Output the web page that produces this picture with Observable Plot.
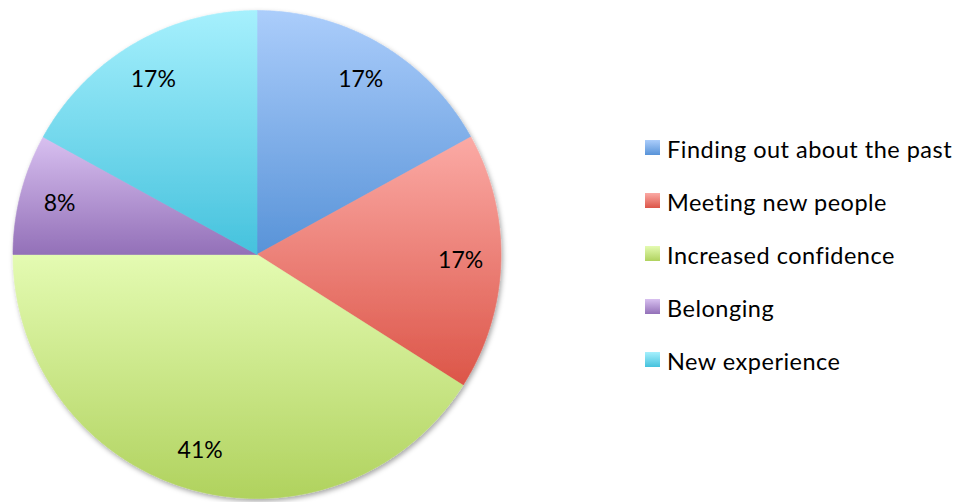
<!DOCTYPE html>
<html>
<head>
<meta charset="utf-8">
<script src="https://cdn.jsdelivr.net/npm/d3@7"></script>
<script src="https://cdn.jsdelivr.net/npm/@observablehq/plot@0.6"></script>
<style>
  html, body { margin: 0; padding: 0; background: #fff; }
  #wrap { position: relative; width: 958px; height: 502px; overflow: hidden; }
  #legend { position: absolute; left: 645px; top: 132px; font-family: Lato, "Open Sans", sans-serif; font-size: 23.5px; letter-spacing: 0.5px; color: #000; }
  .row { display: flex; align-items: center; height: 33px; margin-bottom: 20px; white-space: nowrap; }
  .sw { width: 15px; height: 15px; margin-right: 7px; margin-top: -2px; }
</style>
</head>
<body>
<div id="wrap"><div id="chart"></div><div id="legend"></div></div>
<script>
const categories = ["Finding out about the past", "Meeting new people", "Increased confidence", "Belonging", "New experience"];
const values = [17, 17, 41, 8, 17];
const labels = ["17%", "17%", "41%", "8%", "17%"];
const topColors = ["#abcdfb", "#fbaaa5", "#e4fbb2", "#d8c0f0", "#a6f0fd"];
const bottomColors = ["#5893d8", "#dc5548", "#b0d25e", "#9370b8", "#45c2dd"];

const pie = d3.pie().sort(null).value(d => d)(values);

// slice outlines on the unit circle, clockwise from 12 o'clock
const pts = [];
pie.forEach((p, i) => {
  pts.push({k: i, x: 0, y: 0, fill: `url(#g${i})`});
  const n = Math.max(4, Math.ceil((p.endAngle - p.startAngle) / (Math.PI / 360)));
  for (let j = 0; j <= n; j++) {
    const a = p.startAngle + (p.endAngle - p.startAngle) * j / n;
    pts.push({k: i, x: Math.sin(a), y: Math.cos(a), fill: `url(#g${i})`});
  }
  pts.push({k: i, x: 0, y: 0, fill: `url(#g${i})`});
});

const lr = 0.835;
const labelData = pie.map((p, i) => {
  const a = (p.startAngle + p.endAngle) / 2;
  return {x: lr * Math.sin(a), y: lr * Math.cos(a), t: labels[i]};
});

const W = 958, H = 502;
const cx = 256.5, cy = 254, R = 244;
const svg = Plot.plot({
  width: W, height: H,
  marginLeft: cx - R, marginRight: W - (cx + R),
  marginTop: cy - R, marginBottom: H - (cy + R),
  x: {domain: [-1, 1], axis: null},
  y: {domain: [-1, 1], axis: null},
  color: {type: "identity"},
  style: {background: "transparent", overflow: "visible"},
  marks: [
    Plot.line(pts, {x: "x", y: "y", z: "k", fill: "fill", stroke: "fill", strokeWidth: 0.6, curve: "linear"}),
    Plot.text(labelData, {x: "x", y: "y", text: "t", fontSize: 23, fontFamily: "Lato, 'Open Sans', sans-serif", fill: "#000"})
  ]
});

const ns = "http://www.w3.org/2000/svg";
const defs = document.createElementNS(ns, "defs");
topColors.forEach((c, i) => {
  const g = document.createElementNS(ns, "linearGradient");
  g.setAttribute("id", `g${i}`);
  g.setAttribute("x1", "0"); g.setAttribute("y1", "0");
  g.setAttribute("x2", "0"); g.setAttribute("y2", "1");
  const s0 = document.createElementNS(ns, "stop");
  s0.setAttribute("offset", "0"); s0.setAttribute("stop-color", c);
  const s1 = document.createElementNS(ns, "stop");
  s1.setAttribute("offset", "1"); s1.setAttribute("stop-color", bottomColors[i]);
  g.appendChild(s0); g.appendChild(s1);
  defs.appendChild(g);
});
const f = document.createElementNS(ns, "filter");
f.setAttribute("id", "sh"); f.setAttribute("x", "-10%"); f.setAttribute("y", "-10%");
f.setAttribute("width", "120%"); f.setAttribute("height", "120%");
const ds = document.createElementNS(ns, "feDropShadow");
ds.setAttribute("dx", "1.5"); ds.setAttribute("dy", "2.5"); ds.setAttribute("stdDeviation", "2.5");
ds.setAttribute("flood-color", "#000"); ds.setAttribute("flood-opacity", "0.35");
f.appendChild(ds); defs.appendChild(f);
svg.insertBefore(defs, svg.firstChild);
const lineG = svg.querySelector('g[aria-label="line"]');
if (lineG) lineG.setAttribute("filter", "url(#sh)");
document.getElementById("chart").appendChild(svg);

const legend = document.getElementById("legend");
categories.forEach((c, i) => {
  const row = document.createElement("div");
  row.className = "row";
  const sw = document.createElement("div");
  sw.className = "sw";
  sw.style.background = `linear-gradient(${topColors[i]}, ${bottomColors[i]})`;
  const t = document.createElement("span");
  t.textContent = c;
  row.appendChild(sw); row.appendChild(t);
  legend.appendChild(row);
});
</script>
</body>
</html>
